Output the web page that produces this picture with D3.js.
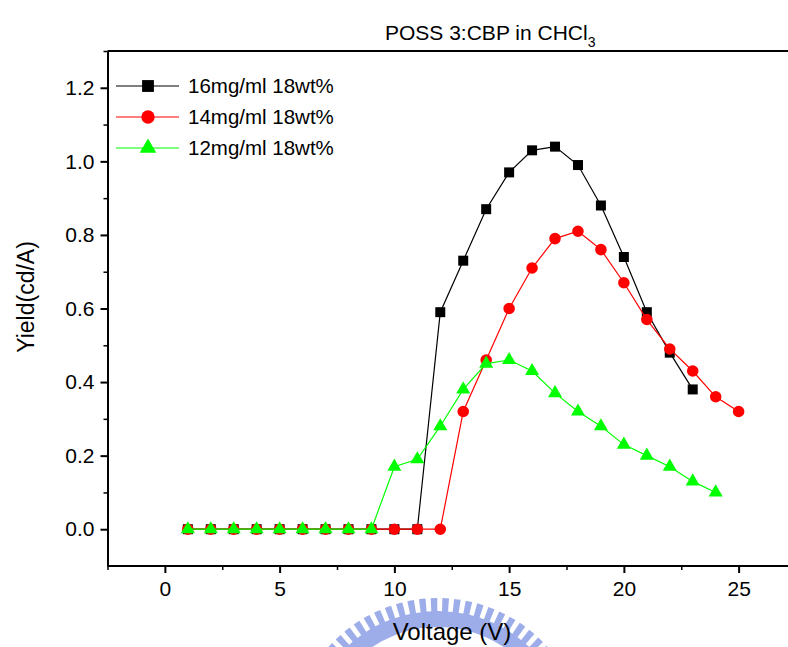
<!DOCTYPE html>
<html>
<head>
<meta charset="utf-8">
<script src="https://cdn.jsdelivr.net/npm/d3@7"></script>
<style>
  body { margin: 0; background: #fff; }
  svg { display: block; font-family: "Liberation Sans", Arial, sans-serif; }
  .axis path, .axis line { stroke: #000; }
</style>
</head>
<body>
<div id="Chart"></div>
<script>
// data
const voltage = d3.range(1, 26);
const yield16 = [0, 0, 0, 0, 0, 0, 0, 0, 0, 0, 0, 0.59, 0.73, 0.87, 0.97, 1.03, 1.04, 0.99, 0.88, 0.74, 0.59, 0.48, 0.38];
const yield14 = [0, 0, 0, 0, 0, 0, 0, 0, 0, 0, 0, 0, 0.32, 0.46, 0.60, 0.71, 0.79, 0.81, 0.76, 0.67, 0.57, 0.49, 0.43, 0.36, 0.32];
const yield12 = [0, 0, 0, 0, 0, 0, 0, 0, 0, 0.17, 0.19, 0.28, 0.38, 0.45, 0.46, 0.43, 0.37, 0.32, 0.28, 0.23, 0.20, 0.17, 0.13, 0.10];
const seriesNames = ["16mg/ml 18wt%", "14mg/ml 18wt%", "12mg/ml 18wt%"];
const xTicks = [0, 5, 10, 15, 20, 25];
const yTicks = [0, 0.2, 0.4, 0.6, 0.8, 1.0, 1.2];

const dim = {width: 788, height: 647, left: 107.5, top: 51, right: 796, bottom: 566};
const font = "Liberation Sans, Arial, sans-serif";

const series = [
  {name: seriesNames[0], values: yield16, color: "#000000", symbol: d3.symbolSquare, size: 100, legendSize: 140},
  {name: seriesNames[1], values: yield14, color: "#ff0000", symbol: d3.symbolCircle, size: 105, legendSize: 140},
  {name: seriesNames[2], values: yield12, color: "#00ff00", symbol: d3.symbolTriangle, size: 85, legendSize: 120}
];

const svg = d3.select("#Chart").append("svg")
  .attr("width", dim.width)
  .attr("height", dim.height);

const scale = {
  x: d3.scaleLinear([-2.5, 27.5], [dim.left, dim.right]),
  y: d3.scaleLinear([-0.1, 1.3], [dim.bottom, dim.top])
};

// faint logo watermark behind the axis title
const logo = svg.append("g")
  .attr("class", "logo")
  .attr("transform", "translate(438 745)")
  .attr("fill", "#8c9fe6")
  .attr("opacity", 0.85);
logo.append("path")
  .attr("d", d3.arc()({innerRadius: 118, outerRadius: 134, startAngle: -1.3, endAngle: 1.15}));
logo.selectAll("path.tooth")
  .data(d3.range(-1.25, 1.1, 0.08))
  .join("path")
    .attr("class", "tooth")
    .attr("d", a => d3.arc()({innerRadius: 132, outerRadius: 147, startAngle: a, endAngle: a + 0.045}));

// frame top line
svg.append("line")
  .attr("x1", dim.left).attr("x2", dim.width)
  .attr("y1", dim.top).attr("y2", dim.top)
  .attr("stroke", "#000").attr("stroke-width", 2);

// axes: minor ticks first, then major ticks with labels
svg.append("g").attr("class", "axis minor")
  .attr("transform", `translate(0 ${dim.bottom})`)
  .call(d3.axisBottom(scale.x).tickValues(d3.range(-2.5, 28, 5)).tickSize(4).tickFormat(""))
  .call(g => g.select(".domain").remove())
  .selectAll("line").attr("stroke-width", 1.5);
svg.append("g").attr("class", "axis minor")
  .attr("transform", `translate(${dim.left} 0)`)
  .call(d3.axisLeft(scale.y).tickValues(d3.range(0.1, 1.35, 0.2)).tickSize(4).tickFormat(""))
  .call(g => g.select(".domain").remove())
  .selectAll("line").attr("stroke-width", 1.5);

const xAxis = svg.append("g").attr("class", "axis bottom")
  .attr("transform", `translate(0 ${dim.bottom})`)
  .call(d3.axisBottom(scale.x).tickValues(xTicks).tickSize(7).tickSizeOuter(0).tickPadding(8).tickFormat(d3.format("d")));
xAxis.select(".domain").attr("d", `M${dim.left},0H${dim.width}`).attr("stroke-width", 2);
xAxis.selectAll("line").attr("stroke-width", 2);
xAxis.selectAll("text").attr("font-size", 21).attr("font-family", font).attr("fill", "#000");

const yAxis = svg.append("g").attr("class", "axis left")
  .attr("transform", `translate(${dim.left} 0)`)
  .call(d3.axisLeft(scale.y).tickValues(yTicks).tickSize(7).tickSizeOuter(0).tickPadding(6).tickFormat(d3.format(".1f")));
yAxis.select(".domain").attr("stroke-width", 2);
yAxis.selectAll("line").attr("stroke-width", 2);
yAxis.selectAll("text").attr("font-size", 21).attr("font-family", font).attr("fill", "#000");

// titles
const title = svg.append("text")
  .attr("x", 385).attr("y", 40)
  .attr("font-size", 21)
  .text("POSS 3:CBP in CHCl");
title.append("tspan").attr("font-size", 14).attr("dy", 7).text("3");

svg.append("text")
  .attr("transform", "translate(34 297) rotate(-90)")
  .attr("text-anchor", "middle")
  .attr("font-size", 23)
  .text("Yield(cd/A)");

svg.append("text")
  .attr("x", 452).attr("y", 640)
  .attr("text-anchor", "middle")
  .attr("font-size", 24)
  .text("Voltage (V)");

// data lines and markers
const plot = svg.append("g").attr("class", "chart");
const line = d3.line()
  .x((d, i) => scale.x(voltage[i]))
  .y(d => scale.y(d));

for (const s of series) {
  const g = plot.append("g").attr("class", "series");
  g.append("path")
    .attr("fill", "none")
    .attr("stroke", s.color)
    .attr("stroke-width", 1.2)
    .attr("d", line(s.values));
  g.selectAll("path.mark")
    .data(s.values)
    .join("path")
      .attr("class", "mark")
      .attr("transform", (d, i) => `translate(${scale.x(voltage[i])} ${scale.y(d)})`)
      .attr("d", d3.symbol(s.symbol, s.size))
      .attr("fill", s.color);
}

// legend
const legend = svg.append("g").attr("class", "legend");
const legendY = [86, 117, 148];
series.forEach((s, i) => {
  const row = legend.append("g").attr("transform", `translate(116 ${legendY[i]})`);
  row.append("line").attr("x1", 0).attr("x2", 63)
    .attr("stroke", s.color).attr("stroke-width", 1.2);
  row.append("path")
    .attr("transform", "translate(32 0)")
    .attr("d", d3.symbol(s.symbol, s.legendSize))
    .attr("fill", s.color);
  row.append("text")
    .attr("x", 72).attr("dy", "0.35em")
    .attr("font-size", 20.5)
    .text(s.name);
});
</script>
</body>
</html>
